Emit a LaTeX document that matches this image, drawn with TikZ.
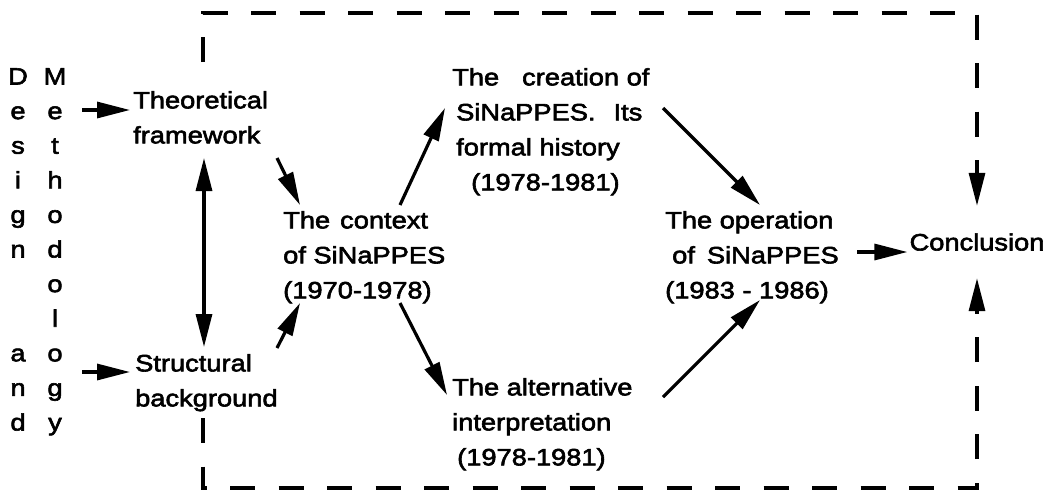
\documentclass[tikz,border=0pt]{standalone}
\usepackage{fontspec}
\setmainfont{Liberation Sans}[FakeStretch=1.15,FakeBold=2.5]
\usetikzlibrary{arrows.meta}

\begin{document}
\begin{tikzpicture}[x=1pt,y=-1pt,
  txt/.style={anchor=north west,inner sep=0pt,align=left,font=\fontsize{23.7}{35}\selectfont},
  col/.style={anchor=north,inner sep=0pt,align=center,font=\fontsize{23.7}{34.6}\selectfont},
  tip/.style={-{Triangle[length=33pt,width=16pt]}},
  flow/.style={line width=3.2pt,tip},
  frame/.style={line width=3.2pt,dash pattern=on 25pt off 23.5pt,tip}
]
\useasboundingbox (0,0) rectangle (1052,491);

% vertical titles
\node[col] (design) at (18,68) {D\\e\\s\\i\\g\\n\\\mbox{}\\\mbox{}\\a\\n\\d};
\node[col] (meth) at (55,68) {M\\e\\t\\h\\o\\d\\o\\l\\o\\g\\y};

% stages
\node[txt] (theo) at (133,91) {Theoretical\\framework};
\node[txt] (struct) at (135,354) {Structural\\background};
\node[txt] (context) at (283,211) {The\hspace{10pt}context\\of SiNaPPES\\(1970-1978)};
\node[txt] (creation) at (452,68) {The\hspace{23pt}creation of\\\hspace*{4pt}SiNaPPES.\hspace{18pt}Its\\\hspace*{4pt}formal history\\\hspace*{19pt}(1978-1981)};
\node[txt] (alt) at (452,378) {The alternative\\interpretation\\\hspace*{5pt}(1978-1981)};
\node[txt] (oper) at (665,211) {The operation\\\hspace*{7pt}of\hspace{12pt}SiNaPPES\\(1983 - 1986)};
\node[inner sep=0pt,minimum height=72pt,font=\fontsize{23.7}{35}\selectfont] (concl) at (977,242) {Conclusion};

% corners of the dashed frame
\coordinate (topright) at (977,13);
\coordinate (botright) at (977,488);

% solid connectors
\draw[flow] ([shift={(27,42)}]meth.north) -- ([shift={(-3,19)}]theo.north west);
\draw[flow] ([shift={(27,304)}]meth.north) -- ([shift={(-5,18)}]struct.north west);
\draw[line width=3.2pt,{Triangle[length=33pt,width=16pt]}-{Triangle[length=33pt,width=16pt]}]
  ([shift={(71,67)}]theo.north west) -- ([shift={(69,-7)}]struct.north west);
\draw[flow] ([shift={(144,67)}]theo.north west) -- ([shift={(17,-6)}]context.north west);
\draw[flow] ([shift={(142,-6)}]struct.north west) -- ([shift={(17,92)}]context.north west);
\draw[flow] ([shift={(117,-6)}]context.north west) -- ([shift={(-7,40)}]creation.north west);
\draw[flow] ([shift={(117,92)}]context.north west) -- ([shift={(-5,17)}]alt.north west);
\draw[flow] ([shift={(211,40)}]creation.north west) -- ([shift={(95,-6)}]oper.north west);
\draw[flow] ([shift={(211,19)}]alt.north west) -- ([shift={(95,89)}]oper.north west);
\draw[flow] ([shift={(192,41)}]oper.north west) -- ([shift={(-2,10)}]concl.west);

% dashed frame
\draw[frame] ([shift={(70,-29)}]theo.north west) |- (topright) -- (concl.north);
\draw[frame] ([shift={(68,64)}]struct.north west) |- (botright) -- (concl.south);
\end{tikzpicture}
\end{document}
